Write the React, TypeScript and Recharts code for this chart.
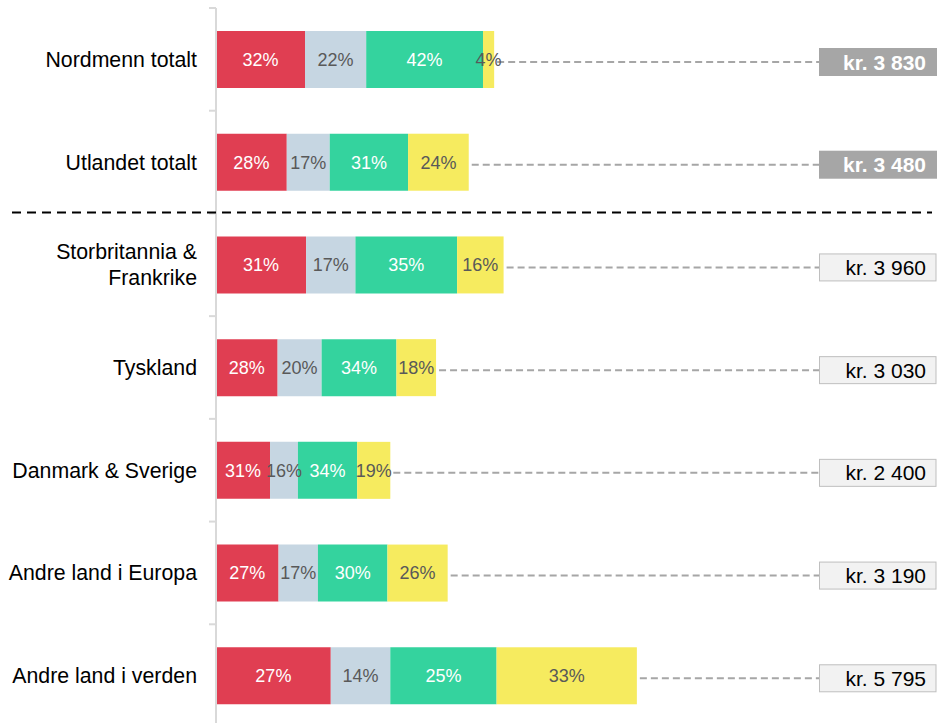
import React from 'react';
import { BarChart, Bar, XAxis, YAxis, LabelList } from 'recharts';

const categories = [
  'Nordmenn totalt',
  'Utlandet totalt',
  'Storbritannia &\nFrankrike',
  'Tyskland',
  'Danmark & Sverige',
  'Andre land i Europa',
  'Andre land i verden',
];
const totals = [3830, 3480, 3960, 3030, 2400, 3190, 5795];
const totalLabels = ['kr. 3 830', 'kr. 3 480', 'kr. 3 960', 'kr. 3 030', 'kr. 2 400', 'kr. 3 190', 'kr. 5 795'];
const highlighted = [true, true, false, false, false, false, false];
const redPct = [32, 28, 31, 28, 31, 27, 27];
const bluePct = [22, 17, 17, 20, 16, 17, 14];
const greenPct = [42, 31, 35, 34, 34, 30, 25];
const yellowPct = [4, 24, 16, 18, 19, 26, 33];

const W = 937;
const H = 735;
const TOP = 8;
const BOTTOM = 8;
const BAND = (H - TOP - BOTTOM) / categories.length;
const AXIS_X = 216;
const BOX_X = 819;
const FONT = '"Liberation Sans", Arial, sans-serif';

const data = categories.map((name, i) => {
  const sum = redPct[i] + bluePct[i] + greenPct[i] + yellowPct[i];
  return {
    name,
    total: totals[i],
    totalLabel: totalLabels[i],
    highlight: highlighted[i],
    red: (redPct[i] / sum) * totals[i],
    blue: (bluePct[i] / sum) * totals[i],
    green: (greenPct[i] / sum) * totals[i],
    yellow: (yellowPct[i] / sum) * totals[i],
    redPct: redPct[i],
    bluePct: bluePct[i],
    greenPct: greenPct[i],
    yellowPct: yellowPct[i],
  };
});

const CategoryTick = (props: any) => {
  const { y, payload, index } = props;
  const lines = String(payload.value).split('\n');
  const lh = 26;
  const startY = y - ((lines.length - 1) * lh) / 2;
  const top = y - BAND / 2;
  return (
    <g>
      <line x1={AXIS_X - 7} x2={AXIS_X} y1={top} y2={top} stroke="#d9d9d9" strokeWidth={2} />
      {index === 2 && (
        <line x1={12} x2={932} y1={top - 1} y2={top - 1} stroke="#000" strokeWidth={2} strokeDasharray="9 6" />
      )}
      <text x={197} y={startY} textAnchor="end" fontSize={21.3} fill="#000" fontFamily={FONT}>
        {lines.map((l, k) => (
          <tspan key={k} x={197} dy={k === 0 ? '0.35em' : lh}>
            {l}
          </tspan>
        ))}
      </text>
    </g>
  );
};

const LastSegment = (props: any) => {
  const { x, y, width, height, fill, payload } = props;
  const cy = y + height / 2 + 2.5;
  const end = x + width;
  return (
    <g>
      <rect x={x} y={y} width={width} height={height} fill={fill} />
      <line x1={end + 3} x2={BOX_X} y1={cy} y2={cy} stroke="#a6a6a6" strokeWidth={2} strokeDasharray="7 4" />
      {payload.highlight ? (
        <rect x={BOX_X} y={cy - 14} width={W - BOX_X} height={28} fill="#a6a6a6" />
      ) : (
        <rect x={BOX_X + 0.5} y={cy - 13.5} width={W - BOX_X - 1.5} height={27} fill="#f2f2f2" stroke="#bfbfbf" />
      )}
      <text
        x={926}
        y={cy}
        dy="0.36em"
        textAnchor="end"
        fontSize={21}
        fontWeight={payload.highlight ? 'bold' : 'normal'}
        fill={payload.highlight ? '#fff' : '#000'}
        fontFamily={FONT}
      >
        {payload.totalLabel}
      </text>
    </g>
  );
};

const pct = (v: any) => `${v}%`;

export default function App() {
  return (
    <div
      style={{
        position: 'fixed',
        top: 0,
        left: 0,
        width: W,
        height: 723,
        overflow: 'hidden',
        fontFamily: FONT,
        background: '#fff',
      }}
    >
      <BarChart
        width={W}
        height={H}
        data={data}
        layout="vertical"
        margin={{ top: TOP, right: 140, bottom: BOTTOM, left: 0 }}
        barSize={57}
      >
        <XAxis type="number" domain={[0, 8000]} hide />
        <YAxis
          type="category"
          dataKey="name"
          width={AXIS_X}
          interval={0}
          tickLine={false}
          axisLine={{ stroke: '#d9d9d9', strokeWidth: 2 }}
          tick={<CategoryTick />}
        />
        <Bar dataKey="red" stackId="a" fill="#E03E52" isAnimationActive={false}>
          <LabelList dataKey="redPct" position="center" formatter={pct} fill="#fff" fontSize={18} fontFamily={FONT} />
        </Bar>
        <Bar dataKey="blue" stackId="a" fill="#C6D6E2" isAnimationActive={false}>
          <LabelList dataKey="bluePct" position="center" formatter={pct} fill="#595959" fontSize={18} fontFamily={FONT} />
        </Bar>
        <Bar dataKey="green" stackId="a" fill="#34D39E" isAnimationActive={false}>
          <LabelList dataKey="greenPct" position="center" formatter={pct} fill="#fff" fontSize={18} fontFamily={FONT} />
        </Bar>
        <Bar dataKey="yellow" stackId="a" fill="#F6EB5F" isAnimationActive={false} shape={<LastSegment />}>
          <LabelList dataKey="yellowPct" position="center" formatter={pct} fill="#595959" fontSize={18} fontFamily={FONT} />
        </Bar>
      </BarChart>
    </div>
  );
}
